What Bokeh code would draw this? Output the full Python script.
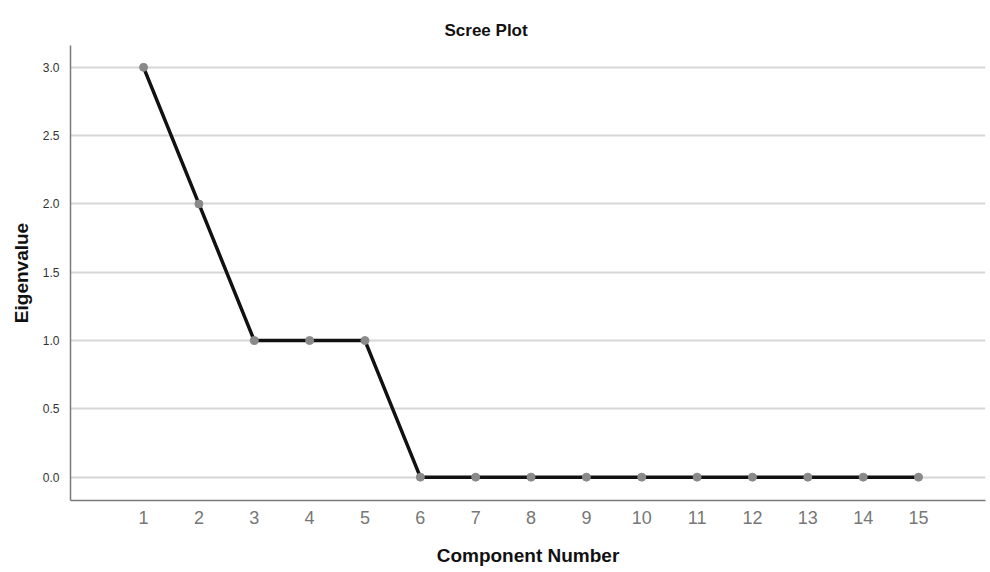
from bokeh.plotting import figure
from bokeh.embed import file_html
from bokeh.resources import INLINE
from bokeh.models import FixedTicker, NumeralTickFormatter, Range1d

components = list(range(1, 16))
eigenvalues = [3.0, 2.0, 1.0, 1.0, 1.0, 0.0, 0.0, 0.0, 0.0, 0.0, 0.0, 0.0, 0.0, 0.0, 0.0]
y_ticks = [0.0, 0.5, 1.0, 1.5, 2.0, 2.5, 3.0]

p = figure(width=988, height=568, output_backend="svg", toolbar_location=None,
           x_range=Range1d(-0.32, 16.21), y_range=Range1d(-0.171, 3.16),
           min_border_left=70, min_border_right=3, min_border_top=45, min_border_bottom=68,
           title="Scree Plot")
p.outline_line_color = None
p.background_fill_color = "white"

p.title.text_font = "Liberation Sans"
p.title.text_font_size = "17px"
p.title.text_font_style = "bold"
p.title.text_color = "#111111"
p.title.align = "left"
p.title.offset = 374
p.title.standoff = 11

p.line(components, eigenvalues, line_color="#111111", line_width=3.5)
p.scatter(components, eigenvalues, size=8, fill_color="#8a8a8a", line_color="#8a8a8a")

p.xgrid.grid_line_color = None
p.ygrid.grid_line_color = "#d6d6d6"
p.ygrid.grid_line_width = 2

p.yaxis.ticker = FixedTicker(ticks=y_ticks)
p.yaxis.formatter = NumeralTickFormatter(format="0.0")
p.xaxis.ticker = FixedTicker(ticks=components)

for ax in (p.xaxis[0], p.yaxis[0]):
    ax.axis_line_color = "#7a7a7a"
    ax.axis_line_width = 1.5
    ax.major_tick_line_color = None
    ax.minor_tick_line_color = None
    ax.axis_label_text_font = "Liberation Sans"
    ax.axis_label_text_font_style = "bold"
    ax.axis_label_text_color = "#111111"
    ax.major_label_text_font = "Liberation Sans"

p.yaxis.axis_label = "Eigenvalue"
p.yaxis.axis_label_text_font_size = "19px"
p.yaxis.major_label_text_font_size = "12px"
p.yaxis.major_label_text_color = "#333333"
p.yaxis.major_label_standoff = 5
p.yaxis.axis_label_standoff = 8

p.xaxis.axis_label = "Component Number"
p.xaxis.axis_label_text_font_size = "19px"
p.xaxis.major_label_text_font_size = "18px"
p.xaxis.major_label_text_color = "#777777"
p.xaxis.major_label_standoff = 4
p.xaxis.axis_label_standoff = 18

open("out.html", "w").write(file_html(p, INLINE))
